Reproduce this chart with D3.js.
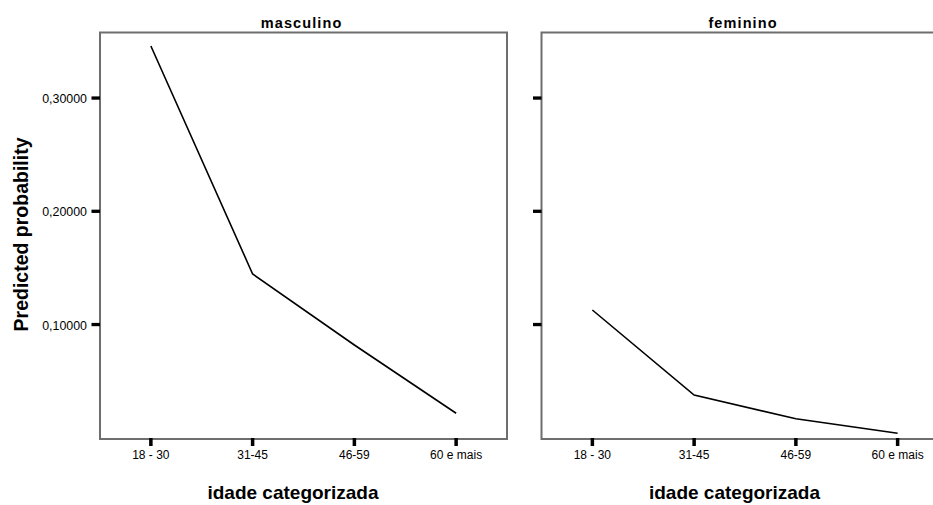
<!DOCTYPE html>
<html><head><meta charset="utf-8">
<script src="https://cdn.jsdelivr.net/npm/d3@7"></script>
<style>body{margin:0;background:#fff;}svg{display:block;font-family:"Liberation Sans",Arial,sans-serif;}</style>
</head><body>
<svg id="c" width="933" height="505"></svg>
<script>
const categories = ["18 - 30", "31-45", "46-59", "60 e mais"];
const panels = ["masculino", "feminino"];
const masculino = [0.3459, 0.1446, 0.0819, 0.0216];
const feminino = [0.1128, 0.0377, 0.0168, 0.0039];
const yTicks = [0.1, 0.2, 0.3];
const yLabels = ["0,10000", "0,20000", "0,30000"];
const seriesByPanel = [masculino, feminino];

(function () {
const svg = d3.select("#c");
const frameTop = 32.5, frameBottom = 439, pw = 407;
const panelLeft = [100, 541.5];
const titleCenter = [301, 742.5];
const y = d3.scaleLinear().domain([0, 0.3]).range([437.75, 437.75 - 3 * 113.25]);

panels.forEach((name, i) => {
  const x0 = panelLeft[i];
  const x = d3.scaleBand().domain(categories).range([x0, x0 + pw]);
  const g = svg.append("g");
  g.append("rect").attr("x", x0).attr("y", frameTop).attr("width", pw).attr("height", frameBottom - frameTop)
    .attr("fill", "none").attr("stroke", "#6e6e6e").attr("stroke-width", 2);
  g.append("text").attr("x", titleCenter[i] + 0.55).attr("y", 28).attr("text-anchor", "middle")
    .attr("font-size", 14.5).attr("font-weight", "bold").attr("letter-spacing", 1.1).text(name);
  categories.forEach(c => {
    const cx = x(c) + x.bandwidth() / 2;
    g.append("rect").attr("x", cx - 1.75).attr("y", frameBottom - 1).attr("width", 3.5).attr("height", 8).attr("fill", "#000");
    g.append("text").attr("x", cx).attr("y", 459).attr("text-anchor", "middle")
      .attr("font-size", 12).text(c);
  });
  yTicks.forEach((t, k) => {
    g.append("rect").attr("x", x0 - 8.5).attr("y", y(t) - 1.6).attr("width", 8.5).attr("height", 3.3).attr("fill", "#000");
    if (i === 0) {
      g.append("text").attr("x", x0 - 13).attr("y", y(t) + 5).attr("text-anchor", "end")
        .attr("font-size", 12.4).text(yLabels[k]);
    }
  });
  const line = d3.line().x((d, j) => x(categories[j]) + x.bandwidth() / 2).y(d => y(d));
  g.append("path").datum(seriesByPanel[i]).attr("d", line).attr("fill", "none")
    .attr("stroke", "#000").attr("stroke-width", 1.6);
  g.append("text").attr("x", x0 + pw / 2 - 10.5).attr("y", 499).attr("text-anchor", "middle")
    .attr("font-size", 19).attr("font-weight", "bold").text("idade categorizada");
});

svg.append("text").attr("transform", "translate(28,234.5) rotate(-90)").attr("text-anchor", "middle")
  .attr("font-size", 19.5).attr("font-weight", "bold").text("Predicted probability");
})();
</script>
</body></html>
